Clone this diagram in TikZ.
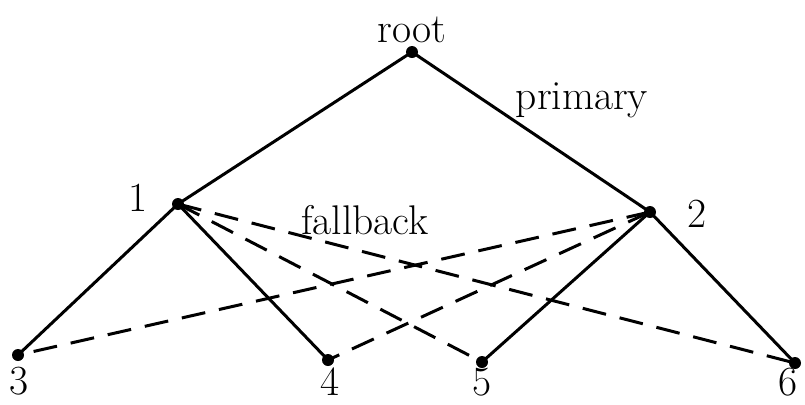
\documentclass[tikz,border=0pt]{standalone}
\usepackage{tikz}
\usetikzlibrary{positioning}

\begin{document}
\begin{tikzpicture}[x=0.5pt, y=-0.5pt, font=\huge,
	dot/.style={circle, fill=black, inner sep=0pt, minimum size=6pt},
	primaryedge/.style={line width=1.5pt},
	fallbackedge/.style={line width=1.5pt, dash pattern=on 12pt off 7pt}]
	
	\useasboundingbox (0,0) rectangle (805,404);
	
	% ---- top: root ----
	\node[dot] (root) at (412,52) {};
	\node (rootlbl) at (412,30) {root};
	
	% ---- middle: 1 and 2 ----
	\node[dot] (n1) at (178,204) {};
	\node[dot] (n2) at (650,212) {};
	\node (lbl1) at (138,198) {1};
	\node (lbl2) at (697,214) {2};
	
	% ---- bottom: leaves ----
	\node[dot] (n3) at (18,355) {};
	\node[dot] (n4) at (328,360) {};
	\node[dot] (n5) at (482,362) {};
	\node[dot] (n6) at (795,363) {};
	\node[inner sep=1pt] (lbl3) at (19,381) {3};
	\node[inner sep=1pt] (lbl4) at (330,382) {4};
	\node[inner sep=1pt] (lbl5) at (482,382) {5};
	\node[inner sep=1pt] (lbl6) at (788,382) {6};
	
	% ---- edge labels ----
	\node (primary) at (582,100) {primary};
	\node (fallback) at (365,220) {fallback};
	
	\draw[primaryedge] (root.center) -- (n1.center);
	\draw[primaryedge] (root.center) -- (n2.center);
	\draw[primaryedge] (n1.center) -- (n3.center);
	\draw[primaryedge] (n1.center) -- (n4.center);
	\draw[primaryedge] (n2.center) -- (n5.center);
	\draw[primaryedge] (n2.center) -- (n6.center);
	
	\draw[fallbackedge] (n1.center) -- (n5.center);
	\draw[fallbackedge] (n1.center) -- (n6.center);
	\draw[fallbackedge] (n2.center) -- (n3.center);
	\draw[fallbackedge] (n2.center) -- (n4.center);
	
\end{tikzpicture}
\end{document}
